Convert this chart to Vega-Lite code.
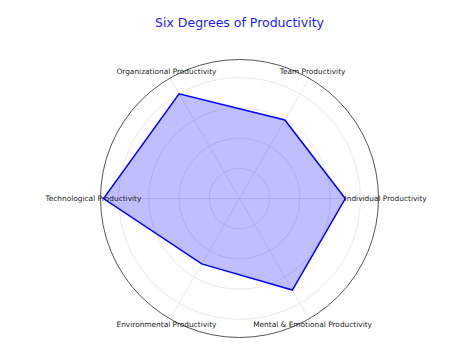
{
  "$schema": "https://vega.github.io/schema/vega-lite/v6.json",
  "width": 278,
  "height": 278,
  "autosize": "none",
  "padding": {"left": 100.5, "top": 59.5, "right": 70.5, "bottom": 14.5},
  "background": "white",
  "view": {"stroke": null},
  "config": {"font": "DejaVu Sans"},
  "title": {"text": "Six Degrees of Productivity", "font": "DejaVu Sans", "fontSize": 12.5, "fontWeight": "normal", "color": "#1a1aff", "frame": "group", "anchor": "middle", "offset": 28},
  "datasets": {
    "pts": [
      {"cat": "Individual Productivity", "v": 7},
      {"cat": "Team Productivity", "v": 6},
      {"cat": "Organizational Productivity", "v": 8},
      {"cat": "Technological Productivity", "v": 9},
      {"cat": "Environmental Productivity", "v": 5},
      {"cat": "Mental & Emotional Productivity", "v": 7}
    ],
    "rings": [{"r": 2}, {"r": 4}, {"r": 6}, {"r": 8}],
    "outer": [{"r": 9.2}]
  },
  "layer": [
    {
      "data": {"name": "rings"},
      "mark": {"type": "arc", "filled": false, "stroke": "#e4e4e4", "strokeWidth": 0.8, "theta": 0, "theta2": 6.2832},
      "encoding": {
        "radius": {"field": "r", "type": "quantitative", "stack": null, "scale": {"type": "linear", "domain": [0, 9.2], "range": [0, 139], "zero": true}}
      }
    },
    {
      "data": {"name": "pts"},
      "transform": [
        {"window": [{"op": "row_number", "as": "idx"}]},
        {"calculate": "(datum.idx - 1) * PI / 3", "as": "a"},
        {"calculate": "0", "as": "c0"},
        {"calculate": "9.2 * cos(datum.a)", "as": "ex"},
        {"calculate": "9.2 * sin(datum.a)", "as": "ey"}
      ],
      "mark": {"type": "rule", "stroke": "#e4e4e4", "strokeWidth": 0.8},
      "encoding": {
        "x": {"field": "c0", "type": "quantitative", "scale": {"domain": [-9.2, 9.2]}, "axis": null},
        "y": {"field": "c0", "type": "quantitative", "scale": {"domain": [-9.2, 9.2]}, "axis": null},
        "x2": {"field": "ex"},
        "y2": {"field": "ey"}
      }
    },
    {
      "data": {"name": "outer"},
      "mark": {"type": "arc", "filled": false, "stroke": "#555555", "strokeWidth": 1, "theta": 0, "theta2": 6.2832},
      "encoding": {
        "radius": {"field": "r", "type": "quantitative", "stack": null, "scale": {"type": "linear", "domain": [0, 9.2], "range": [0, 139], "zero": true}}
      }
    },
    {
      "data": {"name": "pts"},
      "transform": [
        {"window": [{"op": "row_number", "as": "idx"}]},
        {"calculate": "(datum.idx - 1) * PI / 3", "as": "a"},
        {"calculate": "datum.v * cos(datum.a)", "as": "px"},
        {"calculate": "datum.v * sin(datum.a)", "as": "py"}
      ],
      "mark": {"type": "line", "interpolate": "linear-closed", "stroke": "#0000ff", "strokeWidth": 1.5, "fill": "#0000ff", "fillOpacity": 0.25},
      "encoding": {
        "x": {"field": "px", "type": "quantitative", "scale": {"domain": [-9.2, 9.2]}, "axis": null},
        "y": {"field": "py", "type": "quantitative", "scale": {"domain": [-9.2, 9.2]}, "axis": null},
        "order": {"field": "idx", "type": "quantitative"}
      }
    },
    {
      "data": {"name": "pts"},
      "transform": [
        {"window": [{"op": "row_number", "as": "idx"}]},
        {"calculate": "(datum.idx - 1) * PI / 3", "as": "a"},
        {"calculate": "9.67 * cos(datum.a)", "as": "lx"},
        {"calculate": "9.67 * sin(datum.a)", "as": "ly"}
      ],
      "mark": {"type": "text", "fontSize": 7.4, "color": "#262626", "align": "center", "baseline": "middle"},
      "encoding": {
        "x": {"field": "lx", "type": "quantitative", "scale": {"domain": [-9.2, 9.2]}, "axis": null},
        "y": {"field": "ly", "type": "quantitative", "scale": {"domain": [-9.2, 9.2]}, "axis": null},
        "text": {"field": "cat"}
      }
    }
  ]
}
